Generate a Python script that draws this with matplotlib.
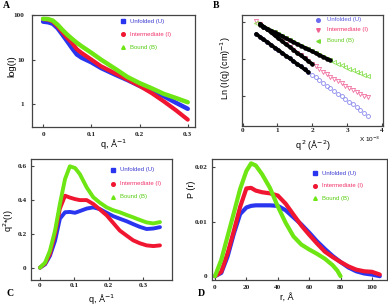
import matplotlib
matplotlib.use("Agg")
import matplotlib.pyplot as plt
from matplotlib.ticker import FixedLocator, NullLocator

# ---------------- data ----------------
# Panel A: log(I) vs q
qA = [0, 0.01, 0.02, 0.03, 0.04, 0.05, 0.06, 0.07, 0.08, 0.10, 0.12, 0.15, 0.175, 0.20, 0.225, 0.25, 0.275, 0.30]
IA_unf = [70, 68, 63, 50, 36, 25.6, 18, 13, 11, 8.7, 6.5, 4.6, 3.5, 2.6, 2.0, 1.53, 1.1, 0.80]
IA_int = [80, 78, 71, 55, 41, 30.4, 23.5, 17, 14, 10, 7.1, 4.9, 3.6, 2.6, 1.8, 1.18, 0.75, 0.46]
IA_bnd = [81, 80, 74, 60, 46, 36, 29, 23.7, 19.8, 14.2, 10, 6.2, 4.1, 3.0, 2.3, 1.73, 1.4, 1.12]

# Panel B: Guinier plot, q^2 (x 10^-3)
q2B = [0.39, 0.50, 0.60, 0.71, 0.82, 0.92, 1.03, 1.14, 1.24, 1.35, 1.46, 1.56, 1.67, 1.78, 1.88,
       1.99, 2.10, 2.20, 2.31, 2.42, 2.52, 2.63, 2.74, 2.84, 2.95, 3.06, 3.16, 3.27, 3.38, 3.48, 3.59]
lnB_unf = [3.67, 3.59, 3.52, 3.45, 3.37, 3.30, 3.23, 3.15, 3.08, 3.01, 2.93, 2.86, 2.79, 2.71, 2.64,
           2.57, 2.49, 2.42, 2.35, 2.27, 2.20, 2.12, 2.05, 1.98, 1.90, 1.83, 1.76, 1.68, 1.61, 1.54, 1.46]
lnB_int = [4.03, 3.95, 3.87, 3.79, 3.71, 3.63, 3.55, 3.47, 3.39, 3.32, 3.24, 3.16, 3.09, 3.01, 2.94,
           2.86, 2.79, 2.72, 2.65, 2.58, 2.51, 2.45, 2.39, 2.33, 2.27, 2.21, 2.16, 2.10, 2.05, 2.00, 1.95]
lnB_bnd = [3.97, 3.92, 3.87, 3.81, 3.76, 3.71, 3.66, 3.61, 3.55, 3.50, 3.45, 3.40, 3.35, 3.30, 3.25,
           3.20, 3.15, 3.10, 3.05, 3.00, 2.95, 2.91, 2.86, 2.82, 2.78, 2.73, 2.69, 2.65, 2.61, 2.57, 2.52]
fit_unf = (0, 14)   # index ranges of the black fitted region
fit_int = (1, 15)
fit_bnd = (1, 20)

# Panel C: Kratky plot
qC = [0, 0.015, 0.029, 0.044, 0.058, 0.073, 0.087, 0.102, 0.116, 0.136, 0.155, 0.174, 0.194,
      0.213, 0.232, 0.252, 0.271, 0.29, 0.31, 0.33, 0.349]
KC_unf = [0, 0.02, 0.07, 0.16, 0.29, 0.328, 0.33, 0.325, 0.335, 0.35, 0.357, 0.347, 0.325,
          0.305, 0.29, 0.275, 0.258, 0.242, 0.229, 0.232, 0.24]
KC_int = [0, 0.025, 0.082, 0.20, 0.35, 0.426, 0.415, 0.406, 0.40, 0.40, 0.377, 0.345, 0.31,
          0.265, 0.22, 0.19, 0.162, 0.145, 0.132, 0.128, 0.132]
KC_bnd = [0, 0.03, 0.10, 0.22, 0.377, 0.525, 0.60, 0.59, 0.554, 0.475, 0.417, 0.385, 0.357,
          0.34, 0.328, 0.312, 0.298, 0.283, 0.268, 0.262, 0.27]

# Panel D: P(r)
rD = [0, 4, 8, 12, 16, 20, 23, 26, 30, 35, 40, 45, 50, 55, 60, 65, 70, 75, 80, 85, 90, 95, 100, 105]
PD_unf = [0, 0.0006, 0.0036, 0.0078, 0.0114, 0.0126, 0.0129, 0.0130, 0.0130, 0.0130, 0.0129, 0.0121,
          0.0108, 0.0095, 0.0080, 0.0064, 0.0050, 0.0037, 0.0026, 0.0016, 0.0009, 0.0005, 0.0003, 0.0]
PD_int = [0, 0.0008, 0.0042, 0.0083, 0.0127, 0.0161, 0.0162, 0.0157, 0.0154, 0.0152, 0.0148, 0.0133,
          0.0113, 0.0093, 0.0076, 0.0060, 0.0045, 0.0035, 0.0026, 0.0018, 0.0012, 0.0009, 0.0008, 0.0003]
rD_bnd = [0, 4, 8, 12, 16, 20, 23, 26, 30, 35, 40, 45, 50, 55, 60, 65, 70, 75, 78, 80]
PD_bnd = [0, 0.0030, 0.0073, 0.0116, 0.0160, 0.0193, 0.0207, 0.0203, 0.0187, 0.0162, 0.0128, 0.0098,
          0.0073, 0.0058, 0.0049, 0.0041, 0.0032, 0.0020, 0.0010, 0.0]

labels = ["Unfolded (U)", "Intermediate (I)", "Bound (B)"]

# ---------------- style ----------------
W, H = 388, 308
C_BLUE, C_RED, C_GREEN = "#2a35f0", "#f01530", "#6ee614"
T_BLUE, T_RED, T_GREEN = "#3a3ad0", "#f0306a", "#55cc11"
SPINE = "#444444"
TICKFONT = dict(family="Liberation Serif", size=5.2, weight="bold")
LABFONT = "Liberation Sans"

fig = plt.figure(figsize=(W / 100, H / 100), dpi=100)


def rect(l, t, r, b):
    return [l / W, 1 - b / H, (r - l) / W, (b - t) / H]


def fx(x):
    return x / W


def fy(y):
    return 1 - y / H


def style(ax, xpad, ypad):
    for s in ax.spines.values():
        s.set_color(SPINE)
        s.set_linewidth(0.9)
    ax.tick_params(direction="in", length=2.5, width=0.8, color=SPINE,
                   top=False, right=False)
    ax.tick_params(axis="x", pad=xpad)
    ax.tick_params(axis="y", pad=ypad)
    for lab in ax.get_xticklabels() + ax.get_yticklabels():
        lab.set_fontfamily(TICKFONT["family"])
        lab.set_fontsize(TICKFONT["size"])
        lab.set_fontweight(TICKFONT["weight"])
        lab.set_color("#222222")


def legend(xm, xt, ys, markers, mcolors, tcolors):
    for y, m, mc, tc, lab in zip(ys, markers, mcolors, tcolors, labels):
        fig.add_artist(plt.Line2D([fx(xm)], [fy(y)], marker=m, color=mc, markersize=2.6,
                                  linestyle="none", transform=fig.transFigure))
        fig.text(fx(xt), fy(y), lab, color=tc, fontsize=4.3, family=LABFONT,
                 va="center", ha="left")


# ---------------- Panel A ----------------
axA = fig.add_axes(rect(32, 14.7, 195, 126.7))
axA.plot(qA, IA_unf, color=C_BLUE, lw=3.2, solid_capstyle="round")
axA.plot(qA, IA_int, color=C_RED, lw=3.0, solid_capstyle="round")
axA.plot(qA, IA_bnd, color=C_GREEN, lw=3.2, solid_capstyle="round")
axA.set_yscale("log")
axA.set_xlim(-0.023, 0.315)
axA.set_ylim(0.32, 100)
axA.yaxis.set_major_locator(FixedLocator([1, 10, 100]))
axA.yaxis.set_minor_locator(NullLocator())
axA.set_yticklabels(["1", "10", "100"])
axA.set_xticks([0, 0.1, 0.2, 0.3])
axA.set_xticklabels(["0", "0.1", "0.2", "0.3"])
style(axA, 4.0, 5.5)
legend(122.7, 130, [21, 34.3, 47.3], ["s", "o", "^"], [C_BLUE, C_RED, C_GREEN],
       [T_BLUE, T_RED, T_GREEN])
fig.text(fx(113), fy(145), "q, Å$^{-1}$", fontsize=6.5, family=LABFONT, ha="center", va="center")
fig.text(fx(12), fy(66), "log(I)", fontsize=6.8, family=LABFONT, ha="center", va="center",
         rotation=90)
fig.text(fx(6), fy(6), "A", fontsize=7, family="Liberation Serif", weight="bold",
         ha="center", va="center")

# ---------------- Panel B ----------------
axB = fig.add_axes(rect(241.5, 14.7, 383, 125.5))
axB.plot(q2B, lnB_unf, linestyle="none", marker="o", ms=2.8, mfc="none", mec="#8a8aee", mew=0.6)
axB.plot(q2B, lnB_int, linestyle="none", marker="v", ms=3.0, mfc="none", mec="#f070a0", mew=0.6)
axB.plot(q2B, lnB_bnd, linestyle="none", marker="<", ms=3.0, mfc="none", mec="#88e050", mew=0.6)
for ys, (i0, i1) in ((lnB_unf, fit_unf), (lnB_int, fit_int), (lnB_bnd, fit_bnd)):
    axB.plot(q2B[i0:i1 + 1], ys[i0:i1 + 1], color="black", lw=2.6, marker="o", ms=2.2,
             solid_capstyle="round")
axB.set_xlim(-0.03, 4.03)
axB.set_ylim(1.19, 4.19)
axB.set_xticks([0, 1, 2, 3, 4])
axB.set_xticklabels(["0", "1", "2", "3", "4"])
axB.set_yticks([2, 3, 4])
axB.set_yticklabels([])
style(axB, 2.0, 3)
legend(318, 327, [19.7, 30, 40.7], ["o", "v", "<"], ["#6a6aee", "#f06090", "#77dd33"],
       ["#5a5ae0", "#f0306a", "#66cc22"])
fig.text(fx(313), fy(146), "q$^{\\,2}$ (Å$^{-2}$)", fontsize=6.5, family=LABFONT,
         ha="center", va="center")
fig.text(fx(370), fy(139), "X 10$^{-3}$", fontsize=4.6, family=LABFONT, ha="center",
         va="center")
fig.text(fx(226), fy(68), "Ln (I(q) (cm)$^{-1}$)", fontsize=6.5, family=LABFONT, ha="center",
         va="center", rotation=90)
fig.text(fx(216.5), fy(6), "B", fontsize=7, family="Liberation Serif", weight="bold",
         ha="center", va="center")

# ---------------- Panel C ----------------
axC = fig.add_axes(rect(31, 158.7, 172, 279.7))
axC.plot(qC, KC_unf, color=C_BLUE, lw=2.8, solid_capstyle="round")
axC.plot(qC, KC_int, color=C_RED, lw=2.8, solid_capstyle="round")
axC.plot(qC, KC_bnd, color=C_GREEN, lw=2.8, solid_capstyle="round")
axC.set_xlim(-0.026, 0.384)
axC.set_ylim(-0.071, 0.645)
axC.set_xticks([0, 0.1, 0.2, 0.3])
axC.set_xticklabels(["0", "0.1", "0.2", "0.3"])
axC.set_yticks([0, 0.2, 0.4, 0.6])
axC.set_yticklabels(["0", "0.2", "0.4", "0.6"])
style(axC, 2.5, 3)
legend(112.7, 120, [169.7, 183.7, 196.7], ["s", "o", "^"], [C_BLUE, C_RED, C_GREEN],
       [T_BLUE, T_RED, T_GREEN])
fig.text(fx(101), fy(300), "q, Å$^{-1}$", fontsize=6.5, family=LABFONT, ha="center",
         va="center")
fig.text(fx(9), fy(221), "q$^2$*(I)", fontsize=6.5, family=LABFONT, ha="center",
         va="center", rotation=90)
fig.text(fx(10), fy(294), "C", fontsize=7, family="Liberation Serif", weight="bold",
         ha="center", va="center")

# ---------------- Panel D ----------------
axD = fig.add_axes(rect(211.7, 159, 386.7, 280))
axD.plot(rD, PD_unf, color=C_BLUE, lw=3.0, solid_capstyle="round")
axD.plot(rD, PD_int, color=C_RED, lw=3.0, solid_capstyle="round")
axD.plot(rD_bnd, PD_bnd, color=C_GREEN, lw=3.0, solid_capstyle="round")
axD.set_xlim(-2.1, 109.4)
axD.set_ylim(-0.0007, 0.0215)
axD.set_xticks([0, 20, 40, 60, 80, 100])
axD.set_xticklabels(["0", "20", "40", "60", "80", "100"])
axD.set_yticks([0, 0.01, 0.02])
axD.set_yticklabels(["0", "0.01", "0.02"])
style(axD, 3.5, 3)
legend(314.7, 322.3, [173, 185.7, 198.3], ["s", "o", "^"], [C_BLUE, C_RED, C_GREEN],
       [T_BLUE, T_RED, T_GREEN])
fig.text(fx(287), fy(297), "r, Å", fontsize=6.5, family=LABFONT, ha="center", va="center")
fig.text(fx(191), fy(189), "P (r)", fontsize=6.5, family=LABFONT, ha="center", va="center",
         rotation=90)
fig.text(fx(201), fy(294), "D", fontsize=7, family="Liberation Serif", weight="bold",
         ha="center", va="center")

fig.savefig("out.png", dpi=100)
